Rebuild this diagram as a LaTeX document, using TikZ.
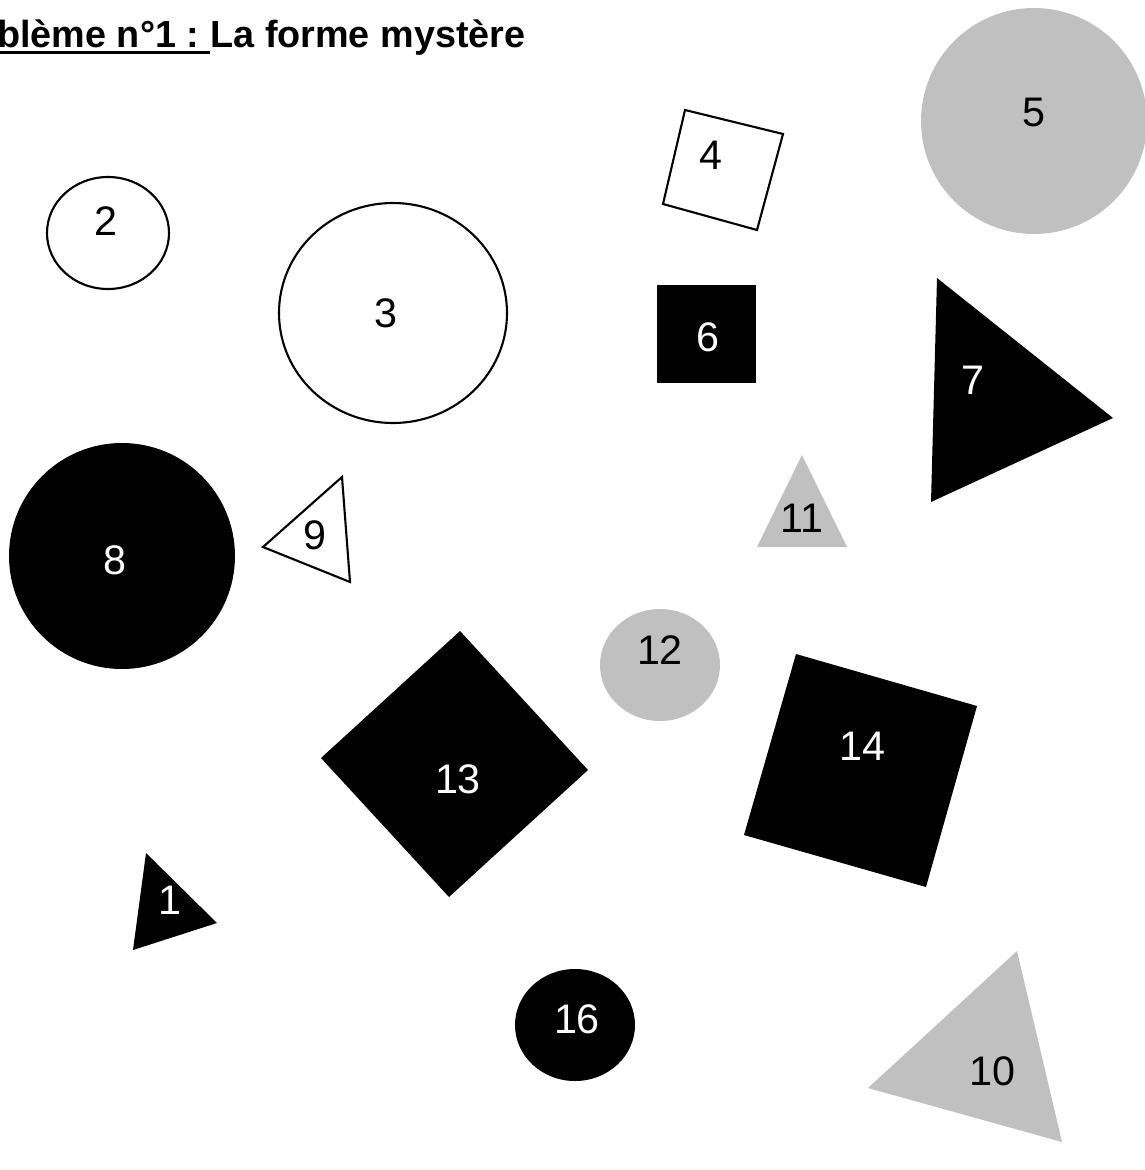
\documentclass[tikz,border=0pt]{standalone}
\usepackage{fontspec}
\setmainfont{Liberation Sans}
\definecolor{shapegray}{RGB}{192,192,192}
\begin{document}
\begin{tikzpicture}[x=0.02cm,y=-0.02cm,
  lbl/.style={inner sep=0pt,font=\fontsize{23.5}{27}\selectfont},
  wl/.style={lbl,text=white},
  ttl/.style={inner sep=0pt,font=\fontsize{21.5}{25}\selectfont\bfseries},
  outl/.style={draw=black,line width=1.2pt,fill=white},
  blk/.style={fill=black},
  gry/.style={fill=shapegray}]
\useasboundingbox (0,0) rectangle (1145,1170);
% title
\node[ttl,anchor=base west] (t1) at (-3,47) {blème n°1 :\hspace*{0.278em}};
\node[ttl,anchor=base west] (t2) at (t1.base east) {La forme mystère};
\draw[line width=1.8pt] ([yshift=-0.11cm]t1.base west) -- ([yshift=-0.11cm]t1.base east);
% 2
\draw[outl] (108,233) ellipse [x radius=61,y radius=56];
\node[lbl] (n2) at (106,221) {2};
% 3
\draw[outl] (393,313) ellipse [x radius=114,y radius=110];
\node[lbl] (n3) at (386,313) {3};
% 4
\draw[outl] (685,110) -- (783,134) -- (757,230) -- (663,204) -- cycle;
\node[lbl] (n4) at (711,155) {4};
% 5
\fill[gry] (1034,121) ellipse [x radius=113,y radius=113];
\node[lbl] (n5) at (1034,112) {5};
% 6
\fill[blk] (657,285) rectangle (756,383);
\node[wl] (n6) at (708,337) {6};
% 7
\fill[blk] (937,278) -- (1113,418) -- (931,502) -- cycle;
\node[wl] (n7) at (973,380) {7};
% 8
\fill[blk] (122,556) ellipse [x radius=113,y radius=113];
\node[wl] (n8) at (115,560) {8};
% 9
\draw[outl] (342,477) -- (350,582) -- (263,547) -- cycle;
\node[lbl] (n9) at (315,535) {9};
% 10
\fill[gry] (1017,951) -- (1062,1142) -- (868,1088) -- cycle;
\node[lbl] (n10) at (992,1071) {10};
% 11
\fill[gry] (802,455) -- (847,547) -- (757,547) -- cycle;
\node[lbl] (n11) at (802,518) {11};
% 12
\fill[gry] (660,665) ellipse [x radius=60,y radius=56];
\node[lbl] (n12) at (660,650) {12};
% 13
\fill[blk] (460,631) -- (588,770) -- (449,897) -- (321,758) -- cycle;
\node[wl] (n13) at (458,779) {13};
% 14
\fill[blk] (796,654) -- (977,706) -- (926,887) -- (744,835) -- cycle;
\node[wl] (n14) at (862,746) {14};
% 1
\fill[blk] (146,853) -- (217,923) -- (133,950) -- cycle;
\node[wl] (n1) at (170,900) {1};
% 16
\fill[blk] (575,1025) ellipse [x radius=60,y radius=56];
\node[wl] (n16) at (577,1019) {16};
\end{tikzpicture}
\end{document}
